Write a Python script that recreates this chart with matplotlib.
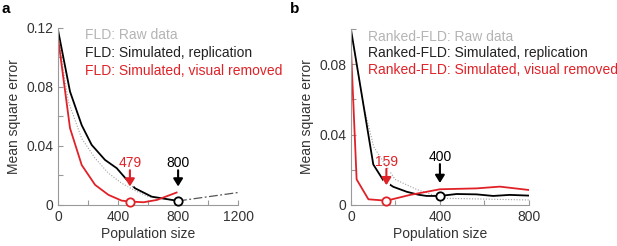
import matplotlib
matplotlib.use("Agg")
import matplotlib.pyplot as plt
from matplotlib.ticker import MultipleLocator

plt.rcParams['font.family'] = ['Liberation Sans', 'DejaVu Sans']
plt.rcParams['font.size'] = 10

RED = '#e02228'

# panel a: FLD
a_raw_x = [0, 35, 69, 158, 247, 336, 424, 513, 602, 724, 800]
a_raw_y = [0.118, 0.092, 0.070, 0.045, 0.0316, 0.0215, 0.0147, 0.0097, 0.0056, 0.0038, 0.003]
a_rep_x = [2, 80, 158, 224, 313, 391, 450, 513, 624, 691, 800]
a_rep_y = [0.1175, 0.0768, 0.054, 0.0407, 0.0305, 0.0249, 0.018, 0.0113, 0.0056, 0.0045, 0.0027]
a_ext_x = [800, 1200]
a_ext_y = [0.0027, 0.0084]
a_vis_x = [2, 80, 158, 247, 336, 424, 479, 570, 660, 790]
a_vis_y = [0.1119, 0.052, 0.027, 0.0136, 0.0068, 0.0029, 0.0023, 0.0018, 0.0034, 0.0084]
a_best = {'vis': (479, 0.0023), 'rep': (800, 0.0027)}

# panel b: Ranked-FLD
b_raw_x = [0, 57, 102, 198, 295, 415, 800]
b_raw_y = [0.098, 0.056, 0.033, 0.0145, 0.0088, 0.0038, 0.0028]
b_rep_x = [0, 100, 145, 190, 250, 303, 340, 400, 475, 565, 640, 714, 800]
b_rep_y = [0.0994, 0.023, 0.014, 0.0103, 0.0075, 0.0058, 0.0051, 0.0051, 0.0062, 0.006, 0.0051, 0.0057, 0.0053]
b_vis_x = [0, 25, 78, 159, 266, 400, 565, 670, 800]
b_vis_y = [0.0877, 0.0145, 0.0032, 0.0024, 0.0057, 0.0089, 0.0094, 0.0104, 0.0085]
b_best = {'vis': (159, 0.0024), 'rep': (400, 0.0051)}


def style_axes(ax):
    for s in ['top', 'right']:
        ax.spines[s].set_visible(False)
    for s in ['left', 'bottom']:
        ax.spines[s].set_color('#999999')
        ax.spines[s].set_linewidth(0.8)
    ax.tick_params(which='both', direction='in', color='#999999', labelcolor='#333333',
                   labelsize=10, width=0.8, length=3.5)
    ax.set_xlabel('Population size', color='#333333', labelpad=2)
    ax.set_ylabel('Mean square error', color='#333333', labelpad=4)


def mark_best(ax, x, y, label, color, text_y, start_y, tip_y):
    ax.text(x, text_y, label, ha='center', va='center', color=color, fontsize=10, zorder=6)
    # white gap behind the arrow
    ax.plot([x, x], [start_y, tip_y], color='white', lw=5, zorder=5.5, solid_capstyle='butt')
    ax.annotate('', xy=(x, tip_y), xytext=(x, start_y), zorder=6,
                arrowprops=dict(arrowstyle='-|>,head_width=0.28,head_length=0.45', color=color,
                                lw=1.5, shrinkA=0, shrinkB=0))
    ax.plot([x], [y], 'o', ms=6, mfc='white', mec=color, mew=1.3, zorder=7, clip_on=False)


fig = plt.figure(figsize=(6.17, 2.46), dpi=100)
ax1 = fig.add_axes([0.094, 0.167, 0.292, 0.72])
ax2 = fig.add_axes([0.569, 0.167, 0.288, 0.715])

# ---- a ----
ax1.plot(a_raw_x, a_raw_y, color='#a0a0a0', lw=0.8, ls=(0, (1, 1.5)))
ax1.plot(a_rep_x, a_rep_y, color='black', lw=1.3)
ax1.plot(a_ext_x, a_ext_y, color='#555555', lw=0.9, ls=(0, (7, 2, 1.5, 2)))
ax1.plot(a_vis_x, a_vis_y, color=RED, lw=1.3)
mark_best(ax1, *a_best['vis'], '479', RED, 0.0285, 0.0235, 0.0125)
mark_best(ax1, *a_best['rep'], '800', 'black', 0.0285, 0.0235, 0.0125)
ax1.set_xlim(0, 1200)
ax1.set_ylim(0, 0.12)
ax1.set_xticks([0, 400, 800, 1200])
ax1.set_xticklabels(['0', '400', '800', '1200'])
ax1.set_yticks([0, 0.04, 0.08, 0.12])
ax1.set_yticklabels(['0', '0.04', '0.08', '0.12'])
ax1.xaxis.set_minor_locator(MultipleLocator(200))
ax1.yaxis.set_minor_locator(MultipleLocator(0.02))
style_axes(ax1)
ax1.text(0.15, 0.96, 'FLD: Raw data', color='#b4b4b4', transform=ax1.transAxes, va='center')
ax1.text(0.15, 0.86, 'FLD: Simulated, replication', color='#222222', transform=ax1.transAxes, va='center')
ax1.text(0.15, 0.757, 'FLD: Simulated, visual removed', color=RED, transform=ax1.transAxes, va='center')

# ---- b ----
ax2.plot(b_raw_x, b_raw_y, color='#a0a0a0', lw=0.8, ls=(0, (1, 1.5)))
ax2.plot(b_rep_x, b_rep_y, color='black', lw=1.3)
ax2.plot(b_vis_x, b_vis_y, color=RED, lw=1.3)
mark_best(ax2, *b_best['vis'], '159', RED, 0.0242, 0.0205, 0.0112)
mark_best(ax2, *b_best['rep'], '400', 'black', 0.027, 0.0232, 0.0125)
ax2.set_xlim(0, 800)
ax2.set_ylim(0, 0.1)
ax2.set_xticks([0, 400, 800])
ax2.set_yticks([0, 0.04, 0.08])
ax2.set_yticklabels(['0', '0.04', '0.08'])
ax2.xaxis.set_minor_locator(MultipleLocator(200))
ax2.yaxis.set_minor_locator(MultipleLocator(0.02))
style_axes(ax2)
ax2.text(0.095, 0.955, 'Ranked-FLD: Raw data', color='#b4b4b4', transform=ax2.transAxes, va='center')
ax2.text(0.095, 0.865, 'Ranked-FLD: Simulated, replication', color='#222222', transform=ax2.transAxes, va='center')
ax2.text(0.095, 0.765, 'Ranked-FLD: Simulated, visual removed', color=RED, transform=ax2.transAxes, va='center')

fig.text(0.003, 0.965, 'a', fontsize=11, fontweight='bold', va='center')
fig.text(0.47, 0.965, 'b', fontsize=11, fontweight='bold', va='center')

fig.savefig('out.png', dpi=100)
